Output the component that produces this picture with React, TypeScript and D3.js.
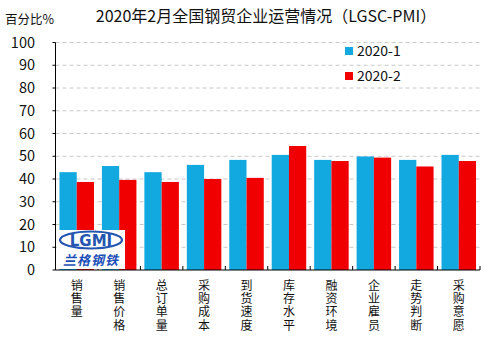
import React from "react";
import * as d3 from "d3";

const categories = ["销售量", "销售价格", "总订单量", "采购成本", "到货速度", "库存水平", "融资环境", "企业雇员", "走势判断", "采购意愿"];
const seriesNames = ["2020-1", "2020-2"];
const jan = [43.0, 45.7, 43.0, 46.2, 48.4, 50.6, 48.4, 49.9, 48.4, 50.6];
const feb = [38.7, 39.6, 38.7, 40.0, 40.5, 54.5, 47.9, 49.4, 45.5, 47.9];
const yTicks = [0, 10, 20, 30, 40, 50, 60, 70, 80, 90, 100];
const colors = ["#12A8E0", "#F00000"];

const W = 499, H = 340;
const left = 55.5, right = 480, top = 42.5, bottom = 270;

export default function App() {
  const x = d3.scaleBand<string>().domain(categories).range([left, right]).paddingInner(0).paddingOuter(0);
  const x1 = d3.scaleBand<string>().domain(seriesNames).range([0, x.bandwidth()]).paddingInner(0).paddingOuter(0.23);
  const y = d3.scaleLinear().domain([0, 100]).range([bottom, top]);
  const font = "'Microsoft YaHei','Noto Sans CJK SC', 'DejaVu Sans', sans-serif";
  const data = [jan, feb];
  return (
    <svg width={W} height={H} style={{ position: "absolute", left: 0, top: 0, background: "#fff" }} fontFamily={font}>
      <rect x={0} y={0} width={W} height={H} fill="#fff" />
      <text x={266} y={22} textAnchor="middle" fontSize={16} fill="#111">2020年2月全国钢贸企业运营情况（LGSC-PMI）</text>
      <text x={5} y={24} fontSize={12.5} fill="#111">百分比%</text>
      {yTicks.map((t) => (
        <g key={t}>
          {t > 0 && <line x1={left} x2={right} y1={y(t)} y2={y(t)} stroke="#c8c8c8" strokeDasharray="4,3" />}
          <line x1={left - 3} x2={left} y1={y(t)} y2={y(t)} stroke="#000" />
          <text x={35} y={y(t) + 5} textAnchor="end" fontSize={14.5} fill="#111">{t}</text>
        </g>
      ))}
      {categories.map((c, i) => (
        <g key={c}>
          {seriesNames.map((s, j) => (
            <rect key={s} x={x(c)! + x1(s)!} width={x1.bandwidth()} y={y(data[j][i])} height={y(0) - y(data[j][i])} fill={colors[j]} />
          ))}
        </g>
      ))}
      <line x1={left} x2={left} y1={top} y2={bottom} stroke="#000" />
      <line x1={left} x2={right} y1={bottom} y2={bottom} stroke="#000" />
      {categories.map((c) => (
        <line key={"t" + c} x1={x(c)! + x.bandwidth()} x2={x(c)! + x.bandwidth()} y1={bottom} y2={bottom - 4} stroke="#000" />
      ))}
      {categories.map((c) => (
        <text key={"l" + c} x={x(c)! + x.bandwidth() / 2} y={279} fontSize={12} fill="#111"
          style={{ writingMode: "vertical-rl", textOrientation: "upright", letterSpacing: "1.4px" } as any}>{c}</text>
      ))}
      {seriesNames.map((s, j) => (
        <g key={s}>
          <rect x={345} y={47 + j * 25} width={8} height={8} fill={colors[j]} />
          <text x={357} y={56 + j * 25} fontSize={14} fill="#111">{s}</text>
        </g>
      ))}
      <g>
        <rect x={57} y={230} width={68} height={39} fill="#fff" />
        <ellipse cx={91} cy={240} rx={31} ry={8.5} fill="none" stroke="#2455b0" strokeWidth={2.2} />
        <text x={91} y={245.5} textAnchor="middle" fontSize={15} fontWeight="bold" fill="#2455b0" fontFamily="'DejaVu Sans', sans-serif">LGMI</text>
        <text x={91} y={265} textAnchor="middle" fontSize={13} fontWeight="bold" fontStyle="italic" fill="#1c4fb8" letterSpacing={1}>兰格钢铁</text>
      </g>
    </svg>
  );
}
